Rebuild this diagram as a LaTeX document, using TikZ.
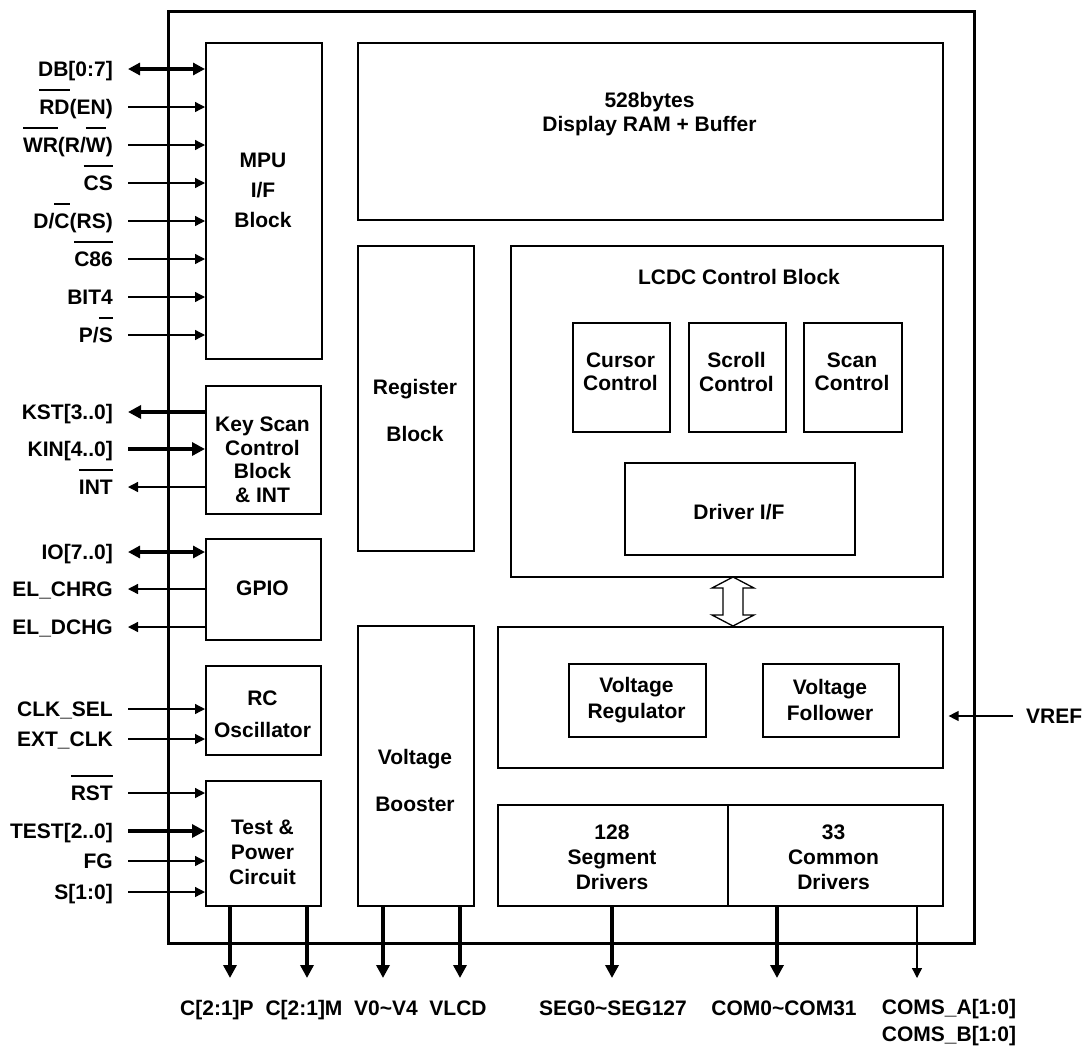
\documentclass[tikz,border=0pt]{standalone}
\usepackage{fontspec}
\setmainfont{Liberation Sans}
\usetikzlibrary{arrows.meta}

\newlength\barw
\newcommand\ovl[1]{\settowidth\barw{#1}\rlap{\rule[24pt]{\barw}{1.3pt}}#1}

\begin{document}
\begin{tikzpicture}[x=1pt,y=-1pt,
  every node/.style={font=\bfseries\fontsize{21}{25}\selectfont},
  lsk/.style={font=\bfseries\fontsize{21}{#1}\selectfont},
  blk/.style={draw,line width=1.6pt,anchor=north west,inner sep=0pt},
  txt/.style={align=center,inner sep=0pt},
  pinl/.style={anchor=east,inner sep=0pt,text height=15pt,text depth=0pt},
  outl/.style={inner sep=0pt,text height=15pt,text depth=0pt},
  sig/.style={line width=1.3pt,-{Triangle[length=10pt,width=10pt]}},
  bus/.style={line width=4pt,-{Triangle[length=13pt,width=13pt]}},
  bbus/.style={line width=4pt,{Triangle[length=12pt,width=12pt]}-{Triangle[length=12pt,width=12pt]}}]

  \useasboundingbox (0,0) rectangle (1085,1047);

  % chip outline
  \node[blk,line width=2.5pt,minimum width=806pt,minimum height=932pt] (chip) at (167,10) {};

  % left column
  \node[blk,minimum width=116pt,minimum height=316pt] (mpu) at (205,42) {};
  \node[txt,lsk=30] (mput) at (263,190) {MPU\\I/F\\Block};
  \node[blk,minimum width=115pt,minimum height=128pt] (ksc) at (205,385) {};
  \node[txt,lsk=23.5] (ksct) at (262.5,460) {Key Scan\\Control\\Block\\\& INT};
  \node[blk,minimum width=115pt,minimum height=101pt] (gpio) at (205,538) {};
  \node[txt] (gpiot) at (262.5,588) {GPIO};
  \node[blk,minimum width=115pt,minimum height=89pt] (rcosc) at (205,665) {};
  \node[txt,lsk=32] (rcosct) at (262.5,714) {RC\\Oscillator};
  \node[blk,minimum width=115pt,minimum height=125pt] (tpc) at (205,780) {};
  \node[txt,lsk=25] (tpct) at (262.5,852) {Test \&\\Power\\Circuit};

  % middle column
  \node[blk,minimum width=585pt,minimum height=177pt] (ram) at (357,42) {};
  \node[txt,lsk=24] (ramt) at (649.5,114) {528bytes\\Display RAM + Buffer};
  \node[blk,minimum width=116pt,minimum height=305pt] (reg) at (357,245) {};
  \node[txt,lsk=47] (regt) at (415,410) {Register\\Block};
  \node[blk,minimum width=116pt,minimum height=280pt] (vbst) at (357,625) {};
  \node[txt,lsk=47] (vbstt) at (415,780) {Voltage\\Booster};

  % LCD controller
  \node[blk,minimum width=432pt,minimum height=331pt] (lcdc) at (510,245) {};
  \node[txt] (lcdct) at (739,277) {LCDC Control Block};
  \node[blk,minimum width=97pt,minimum height=109pt] (cur) at (572,322) {};
  \node[txt,lsk=23.5] (curt) at (620.5,372) {Cursor\\Control};
  \node[blk,minimum width=97pt,minimum height=109pt] (scr) at (688,322) {};
  \node[txt,lsk=23.5] (scrt) at (736.5,372) {Scroll\\Control};
  \node[blk,minimum width=98pt,minimum height=109pt] (scn) at (803,322) {};
  \node[txt,lsk=23.5] (scnt) at (852,372) {Scan\\Control};
  \node[blk,minimum width=230pt,minimum height=92pt] (drvif) at (624,462) {};
  \node[txt] (drvift) at (739,512) {Driver I/F};

  % voltage section
  \node[blk,minimum width=445pt,minimum height=141pt] (vsec) at (497,626) {};
  \node[blk,minimum width=137pt,minimum height=73pt] (vreg) at (568,663) {};
  \node[txt,lsk=26] (vregt) at (636.5,700) {Voltage\\Regulator};
  \node[blk,minimum width=136pt,minimum height=73pt] (vfol) at (762,663) {};
  \node[txt,lsk=26] (vfolt) at (830,700) {Voltage\\Follower};

  % drivers
  \node[blk,minimum width=230pt,minimum height=101pt] (seg) at (497,804) {};
  \node[txt,lsk=25] (segt) at (612,857) {128\\Segment\\Drivers};
  \node[blk,minimum width=215pt,minimum height=101pt] (com) at (727,804) {};
  \node[txt,lsk=25] (comt) at (833.5,857) {33\\Common\\Drivers};

  % hollow double arrow
  \coordinate (ifc) at (733,601.5);
  \draw[line width=1.3pt,fill=white] (ifc) ++(0,-24.5) -- ++(21,11) -- ++(-11,0) -- ++(0,27) -- ++(11,0)
    -- ++(-21,11) -- ++(-21,-11) -- ++(11,0) -- ++(0,-27) -- ++(-11,0) -- cycle;

  % pins, left
  \node[pinl] (db) at (113,69) {DB[0:7]};
  \node[pinl] (rd) at (113,107) {\ovl{RD}(EN)};
  \node[pinl] (wr) at (113,145) {\ovl{WR}(R/\ovl{W})};
  \node[pinl] (cs) at (113,183) {\ovl{CS}};
  \node[pinl] (dc) at (113,221) {D/\ovl{C}(RS)};
  \node[pinl] (c86) at (113,259) {\ovl{C86}};
  \node[pinl] (bit4) at (113,297) {BIT4};
  \node[pinl] (ps) at (113,335) {P/\ovl{S}};
  \draw[bbus] ([xshift=15pt]db.east) -- (db -| mpu.west);
  \draw[sig] ([xshift=15pt]rd.east) -- (rd -| mpu.west);
  \draw[sig] ([xshift=15pt]wr.east) -- (wr -| mpu.west);
  \draw[sig] ([xshift=15pt]cs.east) -- (cs -| mpu.west);
  \draw[sig] ([xshift=15pt]dc.east) -- (dc -| mpu.west);
  \draw[sig] ([xshift=15pt]c86.east) -- (c86 -| mpu.west);
  \draw[sig] ([xshift=15pt]bit4.east) -- (bit4 -| mpu.west);
  \draw[sig] ([xshift=15pt]ps.east) -- (ps -| mpu.west);

  \node[pinl] (kst) at (113,412) {KST[3..0]};
  \node[pinl] (kin) at (113,449) {KIN[4..0]};
  \node[pinl] (int) at (113,487) {\ovl{INT}};
  \draw[bus] (kst -| ksc.west) -- ([xshift=15pt]kst.east);
  \draw[bus] ([xshift=15pt]kin.east) -- (kin -| ksc.west);
  \draw[sig] (int -| ksc.west) -- ([xshift=15pt]int.east);

  \node[pinl] (io) at (113,552) {IO[7..0]};
  \node[pinl] (elc) at (113,589) {EL\_CHRG};
  \node[pinl] (eld) at (113,627) {EL\_DCHG};
  \draw[bbus] ([xshift=15pt]io.east) -- (io -| gpio.west);
  \draw[sig] (elc -| gpio.west) -- ([xshift=15pt]elc.east);
  \draw[sig] (eld -| gpio.west) -- ([xshift=15pt]eld.east);

  \node[pinl] (clks) at (113,709) {CLK\_SEL};
  \node[pinl] (extc) at (113,739) {EXT\_CLK};
  \draw[sig] ([xshift=15pt]clks.east) -- (clks -| rcosc.west);
  \draw[sig] ([xshift=15pt]extc.east) -- (extc -| rcosc.west);

  \node[pinl] (rst) at (113,793) {\ovl{RST}};
  \node[pinl] (test) at (113,831) {TEST[2..0]};
  \node[pinl] (fg) at (113,861) {FG};
  \node[pinl] (sel) at (113,892) {S[1:0]};
  \draw[sig] ([xshift=15pt]rst.east) -- (rst -| tpc.west);
  \draw[bus] ([xshift=15pt]test.east) -- (test -| tpc.west);
  \draw[sig] ([xshift=15pt]fg.east) -- (fg -| tpc.west);
  \draw[sig] ([xshift=15pt]sel.east) -- (sel -| tpc.west);

  % VREF
  \node[outl,anchor=west] (vref) at (1026,716) {VREF};
  \draw[sig,shorten >=5pt] ([xshift=-13pt]vref.west) -- (vref -| vsec.east);

  % pins, bottom
  \coordinate (ocp) at (230,978);
  \coordinate (ocm) at (307,978);
  \coordinate (ov) at (383,978);
  \coordinate (ovlcd) at (460,978);
  \coordinate (oseg) at (612,978);
  \coordinate (ocom) at (777,978);
  \coordinate (ocoms) at (917,978);
  \draw[bus] (ocp |- tpc.south) -- (ocp);
  \draw[bus] (ocm |- tpc.south) -- (ocm);
  \draw[bus] (ov |- vbst.south) -- (ov);
  \draw[bus] (ovlcd |- vbst.south) -- (ovlcd);
  \draw[bus] (oseg |- seg.south) -- (oseg);
  \draw[bus] (ocom |- com.south) -- (ocom);
  \draw[sig] (ocoms |- com.south) -- (ocoms);
  \node[outl] (cp) at (217,1008) {C[2:1]P};
  \node[outl] (cm) at (304,1008) {C[2:1]M};
  \node[outl] (v04) at (386,1008) {V0\textasciitilde V4};
  \node[outl] (vlcd) at (458,1008) {VLCD};
  \node[outl] (segs) at (613,1008) {SEG0\textasciitilde SEG127};
  \node[outl] (coms) at (784,1008) {COM0\textasciitilde COM31};
  \node[txt,lsk=27] (comsab) at (949,1023) {COMS\_A[1:0]\\COMS\_B[1:0]};
\end{tikzpicture}
\end{document}
